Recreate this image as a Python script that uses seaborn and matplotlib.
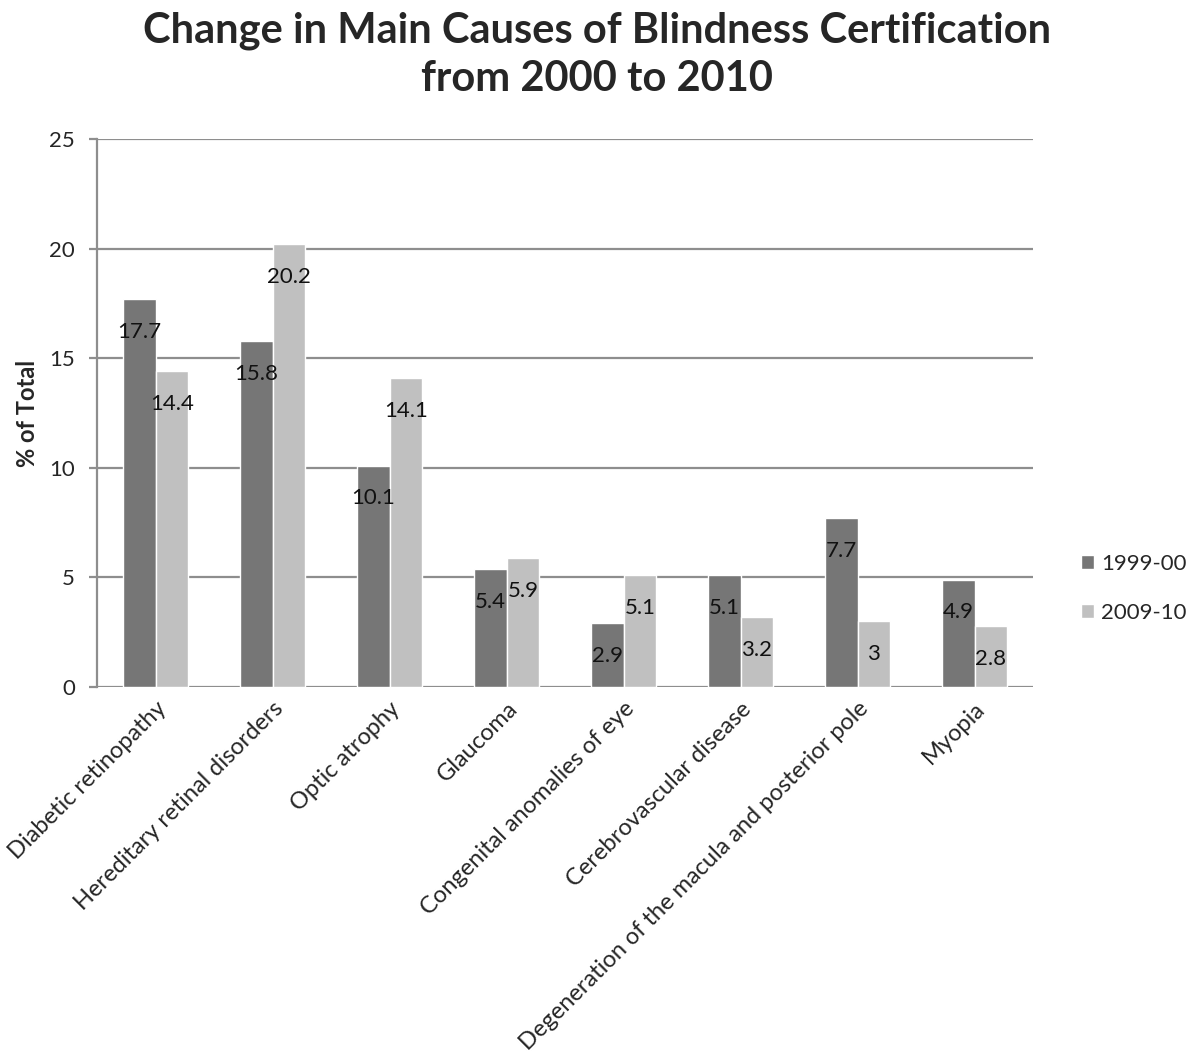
import matplotlib
matplotlib.use("Agg")
import matplotlib.pyplot as plt
import seaborn as sns
import pandas as pd

causes = [
    "Diabetic retinopathy",
    "Hereditary retinal disorders",
    "Optic atrophy",
    "Glaucoma",
    "Congenital anomalies of eye",
    "Cerebrovascular disease",
    "Degeneration of the macula and posterior pole",
    "Myopia",
]
years = ["1999-00", "2009-10"]
values_1999 = [17.7, 15.8, 10.1, 5.4, 2.9, 5.1, 7.7, 4.9]
values_2009 = [14.4, 20.2, 14.1, 5.9, 5.1, 3.2, 3.0, 2.8]
value_labels_1999 = ["17.7", "15.8", "10.1", "5.4", "2.9", "5.1", "7.7", "4.9"]
value_labels_2009 = ["14.4", "20.2", "14.1", "5.9", "5.1", "3.2", "3", "2.8"]

df = pd.DataFrame({
    "cause": causes * 2,
    "year": [years[0]] * len(causes) + [years[1]] * len(causes),
    "value": values_1999 + values_2009,
})

sns.set_style("white")
plt.rcParams["font.family"] = ["Lato", "DejaVu Sans"]

fig = plt.figure(figsize=(11.9, 10.59), dpi=100)
ax = fig.add_axes([97 / 1190, 1 - 687 / 1059, (1033 - 97) / 1190, (687 - 139) / 1059])

palette = {"1999-00": "#767676", "2009-10": "#c0c0c0"}
sns.barplot(data=df, x="cause", y="value", hue="year", order=causes,
            hue_order=years, palette=palette, width=0.56, saturation=1,
            ax=ax, legend=True, zorder=3)

ax.set_ylim(0, 25)
ax.set_yticks([0, 5, 10, 15, 20, 25])
ax.set_xlim(-0.5, len(causes) - 0.5)
ax.yaxis.grid(True, color="#8e8e8e", linewidth=1.6, zorder=0)
ax.set_axisbelow(True)
for side in ["top", "right", "bottom"]:
    ax.spines[side].set_visible(False)
ax.spines["left"].set_color("#8e8e8e")
ax.spines["left"].set_linewidth(1.6)
ax.tick_params(axis="y", length=6, width=1.6, color="#8e8e8e", labelsize=16,
               pad=10, left=True)
ax.tick_params(axis="x", length=0, labelsize=17, pad=8)
ax.set_xticks(range(len(causes)))
ax.set_xticklabels(causes, rotation=45, ha="right", rotation_mode="anchor")
ax.set_xlabel("")
ax.set_ylabel("% of Total", fontsize=17, fontweight="bold", labelpad=7)

# value labels placed a little below each bar top
for container, labels in zip(ax.containers, [value_labels_1999, value_labels_2009]):
    for bar, lab in zip(container, labels):
        h = bar.get_height()
        ax.text(bar.get_x() + bar.get_width() / 2, h - 1.5, lab,
                ha="center", va="center", fontsize=16, color="#111111", zorder=4)

handles, lbls = ax.get_legend_handles_labels()
ax.legend(handles, lbls, loc="center left", bbox_to_anchor=(1.03, 0.18),
          frameon=False, fontsize=16, handlelength=0.6, handleheight=0.6,
          handletextpad=0.3, labelspacing=1.3)

fig.suptitle("Change in Main Causes of Blindness Certification\nfrom 2000 to 2010",
             x=597 / 1190, y=1 - 12 / 1059, fontsize=30, fontweight="bold",
             va="top", linespacing=1.3)

fig.savefig("out.png", dpi=100)
